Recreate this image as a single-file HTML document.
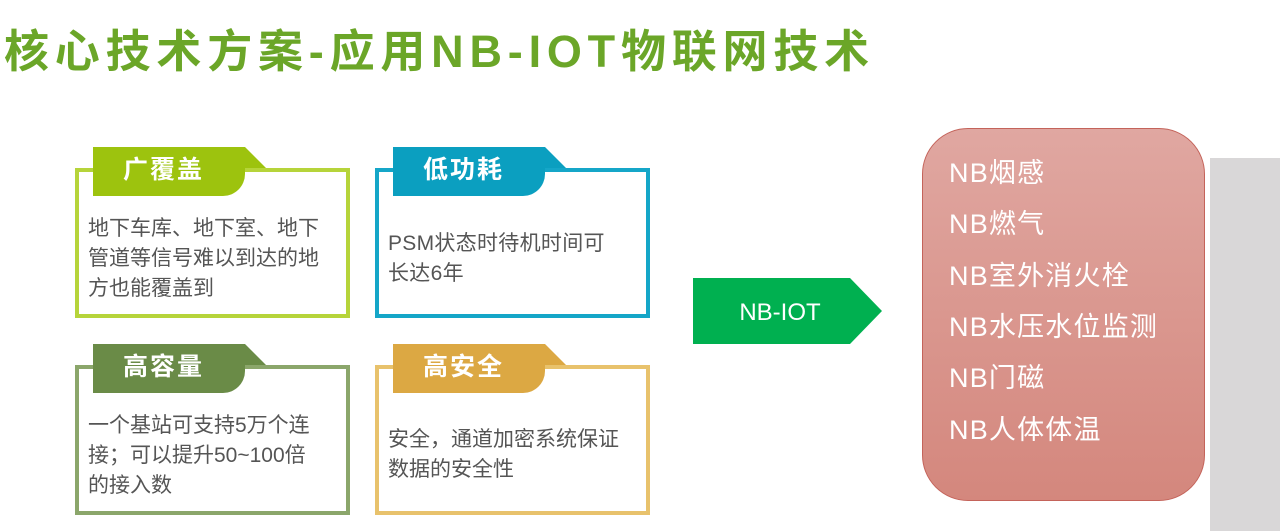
<!DOCTYPE html>
<html><head><meta charset="utf-8"><style>
body{margin:0;width:1280px;height:531px;background:#fff;position:relative;overflow:hidden;font-family:"Liberation Sans","Noto Sans CJK SC",sans-serif}
.t{position:absolute;left:4px;top:15px;font-size:45px;font-weight:bold;color:#6ba628;letter-spacing:5.8px;white-space:nowrap}
.card{position:absolute;width:267px;height:142px;border:4px solid;box-sizing:content-box}
.tab{position:absolute;height:49px;width:152px;color:#fff;font-size:25px;font-weight:bold;line-height:47px;text-indent:30px;letter-spacing:2px;border-radius:0 0 22px 0}
.tri{position:absolute;width:0;height:0;border-bottom:21px solid;border-right:21px solid transparent}
.body{position:absolute;left:9px;top:42px;font-size:21px;line-height:30px;color:#555;width:236px}
.arrow{position:absolute;left:693px;top:278px}
.gray{position:absolute;left:1210px;top:158px;width:70px;height:373px;background:#d9d7d8}
.red{position:absolute;left:922px;top:128px;width:281px;height:371px;border:1.5px solid #c4635a;border-radius:46px;background:linear-gradient(#e0a7a1,#d4877d)}
.red div{position:absolute;left:26px;color:#fff;font-size:27px;letter-spacing:1.2px;white-space:nowrap}
</style></head><body>
<div class="t">核心技术方案-应用NB-IOT物联网技术</div>

<div class="card" style="left:75px;top:168px;border-color:#b6d43a"><div class="body">地下车库、地下室、地下管道等信号难以到达的地方也能覆盖到</div></div>
<div class="tab" style="left:93px;top:147px;background:#9dc30e">广覆盖</div>
<div class="tri" style="left:245px;top:147px;border-bottom-color:#9dc30e"></div>

<div class="card" style="left:375px;top:168px;border-color:#15a6c8"><div class="body" style="top:57px;width:232px;letter-spacing:0.3px">PSM状态时待机时间可长达6年</div></div>
<div class="tab" style="left:393px;top:147px;background:#0b9fc0">低功耗</div>
<div class="tri" style="left:545px;top:147px;border-bottom-color:#0b9fc0"></div>

<div class="card" style="left:75px;top:365px;border-color:#8ba66b"><div class="body">一个基站可支持5万个连接；可以提升50~100倍的接入数</div></div>
<div class="tab" style="left:93px;top:344px;background:#6a8b47">高容量</div>
<div class="tri" style="left:245px;top:344px;border-bottom-color:#6a8b47"></div>

<div class="card" style="left:375px;top:365px;border-color:#e8c26c"><div class="body" style="top:56px">安全，通道加密系统保证数据的安全性</div></div>
<div class="tab" style="left:393px;top:344px;background:#dca843">高安全</div>
<div class="tri" style="left:545px;top:344px;border-bottom-color:#dca843"></div>

<svg class="arrow" width="190" height="66"><polygon points="0,0 157,0 189,33 157,66 0,66" fill="#00b050"/><text x="87" y="42" font-size="24" fill="#fff" text-anchor="middle" font-family="Liberation Sans">NB-IOT</text></svg>

<div class="gray"></div>
<div class="red">
<div style="top:22px">NB烟感</div>
<div style="top:73px">NB燃气</div>
<div style="top:125px">NB室外消火栓</div>
<div style="top:176px">NB水压水位监测</div>
<div style="top:227px">NB门磁</div>
<div style="top:279px">NB人体体温</div>
</div>
</body></html>
